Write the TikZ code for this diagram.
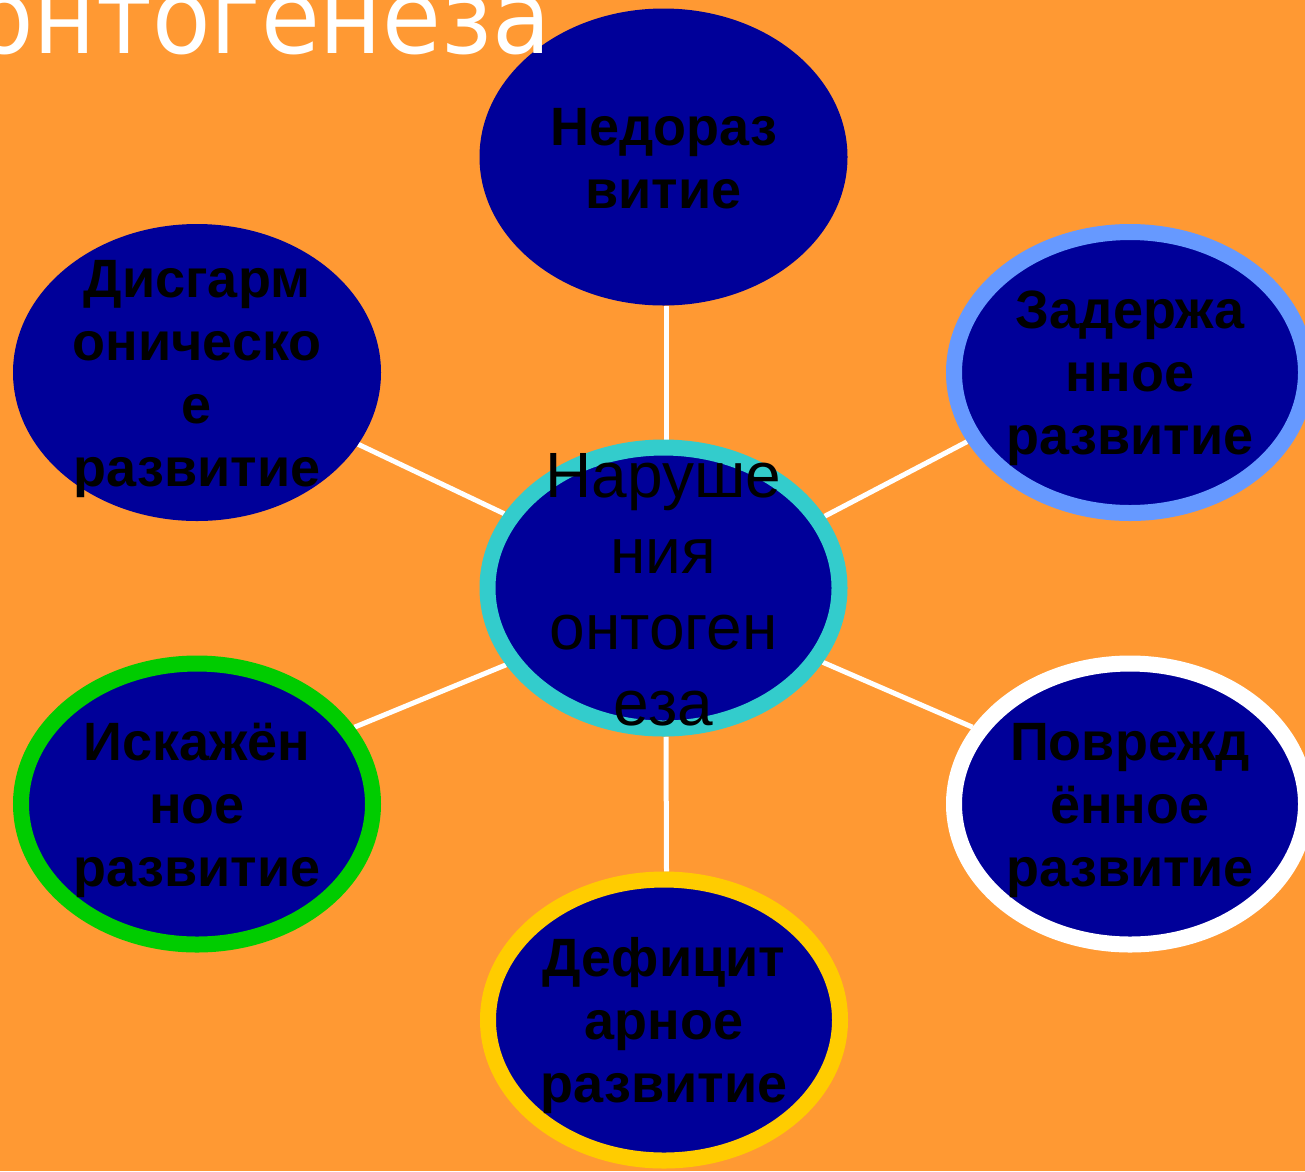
\documentclass[tikz,border=0pt]{standalone}
\usepackage{fontspec}
\setmainfont{Liberation Sans}
\newfontfamily\titlefont[FakeStretch=0.92]{DejaVu Sans}
\usetikzlibrary{shapes.geometric,backgrounds}
\definecolor{bgorange}{HTML}{FF9933}
\definecolor{ellblue}{HTML}{000099}
\definecolor{cyanring}{HTML}{33CCCC}
\definecolor{bluering}{HTML}{6699FF}
\definecolor{yellowring}{HTML}{FFCC00}
\definecolor{greenring}{HTML}{00CC00}
\newcommand\mystrut{\rule[-10pt]{0pt}{60pt}}
\newcommand\mystrutc{\rule[-12pt]{0pt}{70pt}}
\begin{document}
\begin{tikzpicture}[x=1pt,y=-1pt,
  plain/.style={ellipse, fill=ellblue, minimum width=368pt, minimum height=297pt, inner sep=0pt, outer sep=0pt},
  ringed/.style={ellipse, fill=ellblue, draw=#1, line width=16pt, minimum width=352pt, minimum height=281pt, inner sep=0pt},
  lbl/.style={font=\bfseries\fontsize{54}{63}\selectfont, align=center, text=black, inner sep=0pt},
  clbl/.style={font=\fontsize{64}{76}\selectfont, align=center, text=black, inner sep=0pt},
  link/.style={draw=white, line width=5pt}]
\useasboundingbox (0,0) rectangle (1305,1171);
\clip (0,0) rectangle (1305,1171);
% ellipses
\node[plain] (top) at (663.5,157) {};
\node[plain] (dis) at (197,372.5) {};
\node[ringed=bluering] (zad) at (1130,372.5) {};
\node[ringed=cyanring] (c) at (663.5,588) {};
\node[ringed=greenring] (isk) at (197,804) {};
\node[ringed=white] (pov) at (1130,804) {};
\node[ringed=yellowring] (def) at (664,1020) {};
% labels
\node[lbl] (ttop) at (top.center) {\mystrut Недораз\\\mystrut витие};
\node[lbl] (tdis) at (dis.center) {\mystrut Дисгарм\\\mystrut оническо\\\mystrut е\\\mystrut развитие};
\node[lbl] (tzad) at (zad.center) {\mystrut Задержа\\\mystrut нное\\\mystrut развитие};
\node[lbl] (tisk) at (isk.center) {\mystrut Искажён\\\mystrut ное\\\mystrut развитие};
\node[lbl] (tpov) at (pov.center) {\mystrut Поврежд\\\mystrut ённое\\\mystrut развитие};
\node[lbl] (tdef) at (def.center) {\mystrut Дефицит\\\mystrut арное\\\mystrut развитие};
\node[clbl] (tc) at (c.center) {\mystrutc Наруше\\\mystrutc ния\\\mystrutc онтоген\\\mystrutc еза};
% title
\node[anchor=base east, inner sep=0pt, text=white, font=\titlefont\fontsize{104}{120}\selectfont] (title) at (551,53) {онтогенеза};
% background and connectors
\begin{scope}[on background layer]
\fill[bgorange] (0,0) rectangle (1305,1171);
\draw[link] ([xshift=2.5pt]top.south) -- ([xshift=2.5pt]c.north);
\draw[link] ([xshift=2.5pt]c.south) -- ([xshift=2.5pt]def.north);
\draw[link] (c.155.5) -- (dis.-24.8);
\draw[link] (c.24.3) -- (zad.203.5);
\draw[link] (c.206) -- (isk.26);
\draw[link] (c.-25.3) -- (pov.154);
\end{scope}
\end{tikzpicture}
\end{document}
